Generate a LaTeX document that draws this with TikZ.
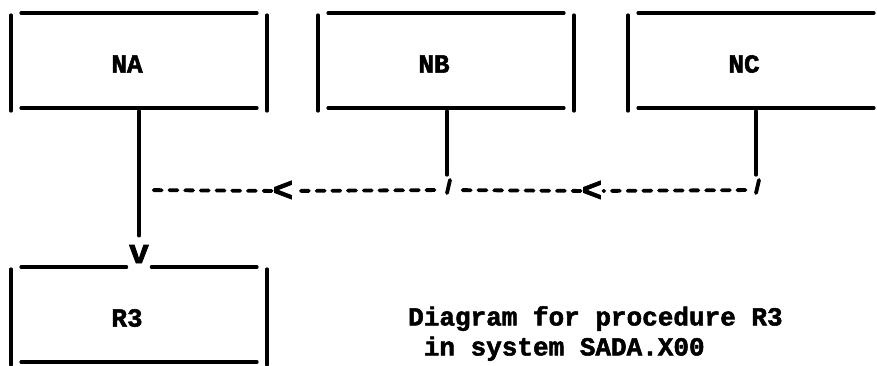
\documentclass[tikz,border=0pt]{standalone}
\usepackage{fontspec}
\setmonofont[BoldFeatures={FakeBold=2}]{Liberation Mono}
\begin{document}
\begin{tikzpicture}[
    boxtext/.style={font=\ttfamily\bfseries\fontsize{26}{30}\selectfont, inner sep=0pt},
    typed/.style={line width=3.2pt, line cap=round},
    flow/.style={typed, line width=3.8pt, dash pattern=on 8pt off 7.7pt},
    glyph/.style={font=\ttfamily\bfseries\fontsize{34}{34}\selectfont, inner sep=1pt},
    x=1pt, y=-1pt
]

\useasboundingbox (0,0) rectangle (877,365);
\clip (0,0) rectangle (877,365);

%% Procedure boxes
\node[boxtext] (NA) at (127,64) {NA};
\node[boxtext] (NB) at (434,64) {NB};
\node[boxtext] (NC) at (744,64) {NC};
\node[boxtext] (R3) at (127,318) {R3};

%% Box outlines, typed lines
\foreach \n in {NA,NB,NC} \draw[typed] ([shift={(-106,-51)}]\n.center) -- ([shift={(130,-51)}]\n.center);
\foreach \n in {NA,NB,NC,R3} {
  \draw[typed] ([shift={(-106,44)}]\n.center) -- ([shift={(130,44)}]\n.center);
  \draw[typed] ([shift={(-116,-49)}]\n.center) -- ([shift={(-116,47)}]\n.center);
  \draw[typed] ([shift={(140,-49)}]\n.center) -- ([shift={(140,47)}]\n.center);
}

%% Arrow into R3
\node[glyph, anchor=base] (R3in) at (139,263) {v};
\draw[typed] ([shift={(-106,-51)}]R3.center) -- ([xshift=-1pt]R3in.west |- 0,267);
\draw[typed] ([xshift=1pt]R3in.east |- 0,267) -- ([shift={(130,-51)}]R3.center);
\coordinate (NAout) at ([shift={(12,47)}]NA.center);
\draw[typed] (NAout) -- ([shift={(0,-8)}]R3in.north);

%% Calls from NB and NC
\coordinate (NAjoin) at (139,190);
\coordinate (NBjoin) at (447,190);
\coordinate (NCjoin) at (756,190);
\node[glyph] (lt1) at (283,191) {<};
\node[glyph] (lt2) at (592,191) {<};

\draw[typed] ([shift={(13,47)}]NB.center) -- ([shift={(0,-15)}]NBjoin);
\draw[typed] ([shift={(12,47)}]NC.center) -- ([shift={(0,-15)}]NCjoin);
\draw[typed, line width=3.8pt] ([shift={(3,-10)}]NBjoin) -- ([shift={(0,3)}]NBjoin);
\draw[typed, line width=3.8pt] ([shift={(3,-10)}]NCjoin) -- ([shift={(0,3)}]NCjoin);

\draw[flow, shorten <=10.5pt] (NCjoin) -- (lt2);
\draw[flow, shorten >=12.5pt] (lt2) -- (NBjoin);
\draw[flow, shorten <=12.5pt] (NBjoin) -- (lt1);
\draw[flow, shorten >=10.5pt] (lt1) -- (NAjoin);

%% Caption
\node[boxtext, anchor=north west, align=left] (caption) at (408,306)
      {Diagram for procedure R3\\~in system SADA.X00};

\end{tikzpicture}
\end{document}
